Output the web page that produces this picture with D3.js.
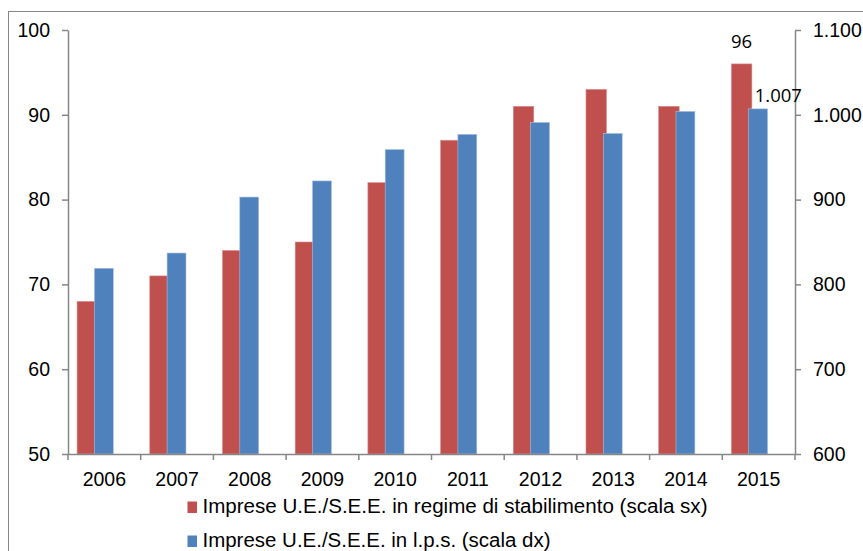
<!DOCTYPE html>
<html><head><meta charset="utf-8">
<script src="https://cdn.jsdelivr.net/npm/d3@7"></script>
<style>html,body{margin:0;padding:0;background:#fff;}svg{display:block;}</style>
</head><body>
<svg id="chart" width="863" height="551"></svg>
<script>
const years = ["2006","2007","2008","2009","2010","2011","2012","2013","2014","2015"];
const stabilimento = [68, 71, 74, 75, 82, 87, 91, 93, 91, 96];
const lps = [819, 837, 903, 922, 959, 977, 991, 978, 1004, 1007];
const leftTicks = [50, 60, 70, 80, 90, 100];
const rightTicks = [600, 700, 800, 900, 1000, 1100];
const legendLabels = ["Imprese U.E./S.E.E. in regime di stabilimento (scala sx)", "Imprese U.E./S.E.E. in l.p.s. (scala dx)"];
const colors = ["#C0504D", "#4F81BD"];

(function () {
const svg = d3.select("#chart");
const axisColor = "#868686";
const pLeft = 68, pRight = 795, pTop = 30, pBottom = 454;

// outer border
svg.append("rect").attr("x", 8.5).attr("y", 11.5).attr("width", 900).attr("height", 600)
  .attr("fill", "none").attr("stroke", axisColor).attr("stroke-width", 1);

const x = d3.scaleBand().domain(years).range([pLeft, pRight]).padding(0);
const yL = d3.scaleLinear().domain([50, 100]).range([pBottom, pTop]);
const yR = d3.scaleLinear().domain([600, 1100]).range([pBottom, pTop]);
const bw = x.bandwidth();
const fmtIt = v => d3.format(",")(v).replace(/,/g, ".");

// red bars
svg.append("g").selectAll("rect").data(years).join("rect")
  .attr("x", (d) => x(d) + bw * 0.125)
  .attr("width", bw * 0.282)
  .attr("y", (d, i) => yL(stabilimento[i]))
  .attr("height", (d, i) => yL(50) - yL(stabilimento[i]))
  .attr("fill", colors[0]).attr("stroke", "#d98e8c").attr("stroke-width", 0.6);

// blue bars
svg.append("g").selectAll("rect").data(years).join("rect")
  .attr("x", (d) => x(d) + bw * 0.363)
  .attr("width", bw * 0.26)
  .attr("y", (d, i) => yR(lps[i]))
  .attr("height", (d, i) => yR(600) - yR(lps[i]))
  .attr("fill", colors[1]).attr("stroke", "#a9c1df").attr("stroke-width", 0.6);

const tickFont = "'Liberation Sans', Arial, sans-serif";

// left axis
const gL = svg.append("g").attr("transform", `translate(${pLeft},0)`)
  .call(d3.axisLeft(yL).tickValues(leftTicks).tickSize(6).tickSizeOuter(0).tickPadding(12));
// right axis
const gR = svg.append("g").attr("transform", `translate(${pRight},0)`)
  .call(d3.axisRight(yR).tickValues(rightTicks).tickSize(6).tickSizeOuter(0).tickPadding(12).tickFormat(fmtIt));
// bottom axis
const gB = svg.append("g").attr("transform", `translate(0,${pBottom})`)
  .call(d3.axisBottom(x).tickSize(0).tickSizeOuter(0).tickPadding(18));
// band boundary ticks
gB.selectAll("line.sep").data(d3.range(years.length + 1)).join("line").attr("class", "sep")
  .attr("x1", i => pLeft + i * bw).attr("x2", i => pLeft + i * bw)
  .attr("y1", 0).attr("y2", 6).attr("stroke", axisColor).attr("stroke-width", 1.5);

[gL, gR, gB].forEach(g => {
  g.selectAll("path.domain").attr("stroke", axisColor).attr("stroke-width", 1.5);
  g.selectAll(".tick line").attr("stroke", axisColor).attr("stroke-width", 1.5);
  g.selectAll(".tick text").attr("fill", "#000").style("font-family", tickFont).style("font-size", "19.5px");
});

// data labels
svg.append("text").attr("x", x("2015") + bw * 0.125 + bw * 0.141).attr("y", yL(96) - 16)
  .attr("text-anchor", "middle").style("font-family", "'Open Sans', sans-serif").style("font-size", "18.5px")
  .attr("fill", "#000").text(stabilimento[9]);
svg.append("text").attr("x", x("2015") + bw * 0.363 + 6).attr("y", yR(1007) - 7)
  .attr("text-anchor", "start").style("font-family", "'Open Sans', sans-serif").style("font-size", "18.5px")
  .attr("fill", "#000").text(fmtIt(lps[9]));

// legend
const legendWidths = [505, 348];
const leg = svg.append("g");
legendLabels.forEach((t, i) => {
  const yb = 513 + i * 34;
  leg.append("rect").attr("x", 187.5).attr("y", yb - 11.5).attr("width", 9.5).attr("height", 11.5).attr("fill", colors[i]);
  leg.append("text").attr("x", 202.5).attr("y", yb).style("font-family", tickFont).style("font-size", "20px")
    .attr("textLength", legendWidths[i]).attr("lengthAdjust", "spacingAndGlyphs")
    .attr("fill", "#000").text(t);
});
})();
</script>
</body></html>
